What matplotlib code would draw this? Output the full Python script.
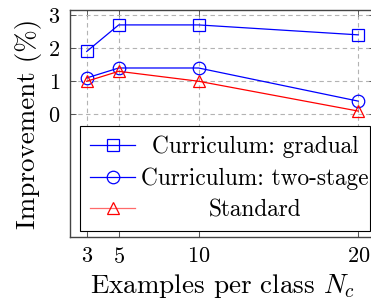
import matplotlib
matplotlib.use("Agg")
import matplotlib.pyplot as plt

# data
examples = [3, 5, 10, 20]
gradual = [1.9, 2.7, 2.7, 2.4]
two_stage = [1.1, 1.4, 1.4, 0.4]
standard = [1.0, 1.3, 1.0, 0.1]
labels = ["Curriculum: gradual", "Curriculum: two-stage", "Standard"]
yticks = [0, 1, 2, 3]

plt.rcParams["font.family"] = ["cmr10", "DejaVu Serif"]
plt.rcParams["mathtext.fontset"] = "cm"
plt.rcParams["axes.formatter.use_mathtext"] = True

fig = plt.figure(figsize=(3.71, 3.0), dpi=100)
# right spine sits just past the image edge, as in the reference
ax = fig.add_axes([70 / 371, 63 / 300, 305 / 371, 227 / 300])

style = dict(lw=0.9, ms=9, mew=0.9, fillstyle="none")
ax.plot(examples, gradual, color="#0000ff", marker="s", label=labels[0], **style)
ax.plot(examples, two_stage, color="#0000ff", marker="o", label=labels[1], **style)
ax.plot(examples, standard, color="#ff0000", marker="^", label=labels[2], **style)

ax.set_xlim(1.95, 21.05)
ax.set_ylim(-3.7, 3.15)
ax.set_xticks(examples)
ax.set_yticks(yticks)
ax.grid(True, color="#b3b3b3", ls=(0, (4, 3)), lw=0.8)
ax.tick_params(direction="in", top=True, right=True, length=4, width=0.6,
               color="#444444", labelsize=16, pad=7)
for s in ax.spines.values():
    s.set_color("#444444")
    s.set_linewidth(1.0)
ax.set_xlabel("Examples per class $N_c$", fontsize=19.5, labelpad=4)
ax.set_ylabel("Improvement (%)", fontsize=19.5, labelpad=4)

leg = ax.legend(loc="upper left", bbox_to_anchor=(0.0328, 0.0, 0.951, 0.489), mode="expand",
                fontsize=16.8, handlelength=1.95, handletextpad=0.25, labelspacing=0.4,
                borderpad=0.42, borderaxespad=0, fancybox=False, framealpha=1,
                edgecolor="black")
leg.get_frame().set_linewidth(0.8)
red_handle = leg.get_lines()[2]
red_handle.set_color("#ff6a6a")
red_handle.set_markeredgecolor("#ff0000")

# centre each legend label in the text column (pgfplots style)
fig.canvas.draw()
r = fig.canvas.get_renderer()
texts = leg.get_texts()
widths = [t.get_window_extent(r).width for t in texts]
col_w = max(widths)
for t, w in zip(texts, widths):
    t.set_x((col_w - w) / 2)

fig.savefig("out.png", dpi=100)
